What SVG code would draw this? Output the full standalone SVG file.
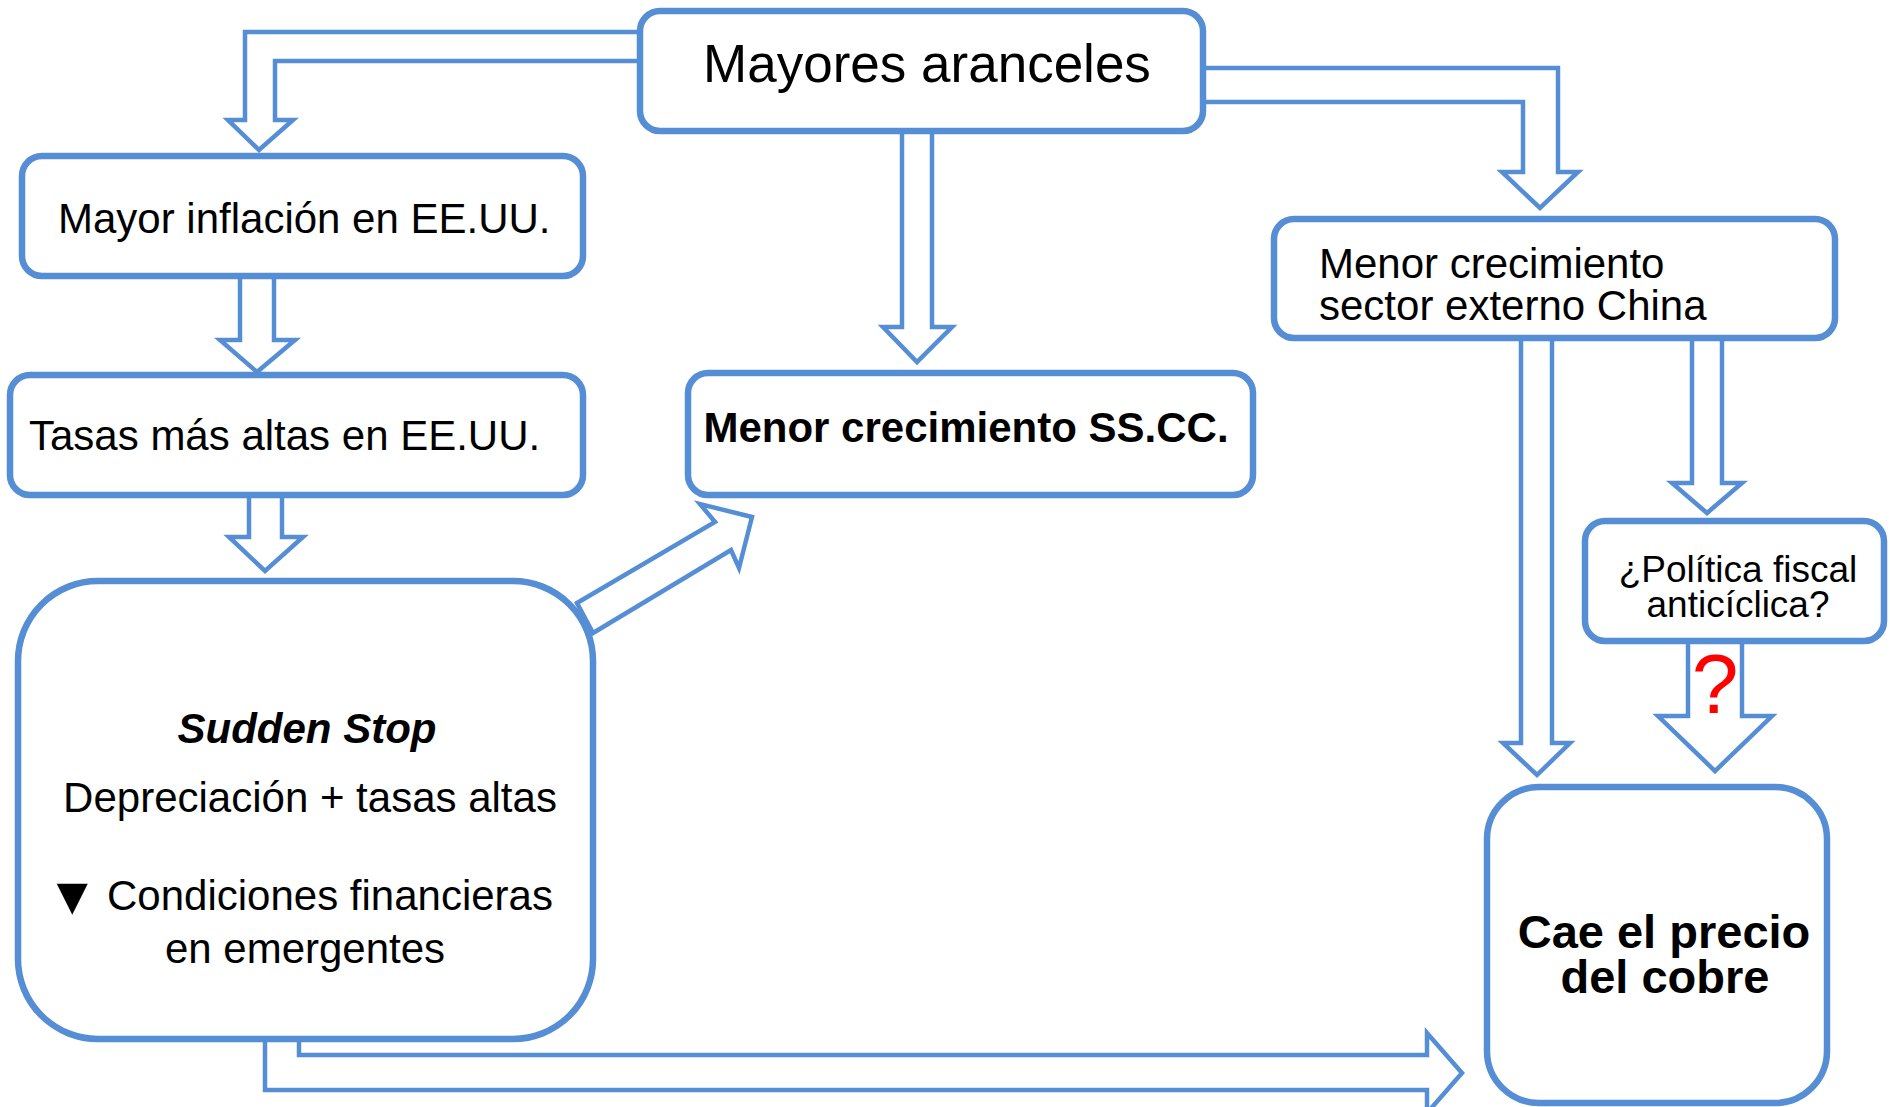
<svg xmlns="http://www.w3.org/2000/svg" width="1890" height="1107" viewBox="0 0 1890 1107">
<style>
.box{fill:#fff;stroke:#558ED5;stroke-width:6.5}
.con{fill:#fff;stroke:#558ED5;stroke-width:4.5;stroke-linejoin:miter}
.t{font-family:"Liberation Sans",Arial,sans-serif;fill:#000}
.c{text-anchor:middle}
.b{font-weight:bold}
</style>
<rect width="1890" height="1107" fill="#fff"/>
<g id="connectors">
<polygon class="con" points="640,32 245,32 245,120 228,120 259,150 293,120 275,120 275,61 640,61"/>
<polygon class="con" points="1203,68 1558,68 1558,172 1578,172 1540,208 1502,172 1523,172 1523,102 1203,102"/>
<polygon class="con" points="902,131 902,327 883,327 917,362 952,327 932,327 932,131"/>
<polygon class="con" points="240,276 240,340 220,340 257,372 295,340 274,340 274,276"/>
<polygon class="con" points="249,495 249,537 229,537 265,571 303,537 282,537 282,495"/>
<polygon class="con" points="577,603 715,522 700,504 752,517 739,568 731,550 593,633"/>
<polygon class="con" points="1521,338 1521,743 1503,743 1537,775 1570,743 1552,743 1552,338"/>
<polygon class="con" points="1692,338 1692,483 1672,483 1707,513 1742,483 1722,483 1722,338"/>
<polygon class="con" points="1688,641 1688,716 1658,716 1715,771 1772,716 1742,716 1742,641"/>
<polygon class="con" points="265,1030 265,1090 1427,1090 1427,1113 1462,1073 1427,1033 1427,1055 299,1055 299,1030"/>
</g>
<g id="n-aranceles">
<rect class="box" x="640" y="11" width="563" height="120" rx="20"/>
<text class="t c" x="927" y="82" font-size="53">Mayores aranceles</text>
</g>
<g id="n-inflacion">
<rect class="box" x="22" y="156" width="561" height="120" rx="20"/>
<text class="t" x="58" y="233" font-size="42">Mayor inflación en EE.UU.</text>
</g>
<g id="n-tasas">
<rect class="box" x="10" y="375" width="573" height="120" rx="20"/>
<text class="t" x="29" y="450" font-size="42">Tasas más altas en EE.UU.</text>
</g>
<g id="n-sscc">
<rect class="box" x="688" y="373" width="565" height="122" rx="20"/>
<text class="t c b" x="966" y="442" font-size="42">Menor crecimiento SS.CC.</text>
</g>
<g id="n-china">
<rect class="box" x="1274" y="219" width="561" height="119" rx="20"/>
<text class="t" x="1319" y="278" font-size="42">Menor crecimiento</text>
<text class="t" x="1319" y="320" font-size="42">sector externo China</text>
</g>
<g id="n-fiscal">
<rect class="box" x="1585" y="521" width="299" height="120" rx="20"/>
<text class="t c" x="1738" y="582" font-size="37">¿Política fiscal</text>
<text class="t c" x="1738" y="617" font-size="37">anticíclica?</text>
</g>
<g id="n-sudden">
<rect class="box" x="18" y="581" width="575" height="458" rx="80"/>
<text class="t c b" x="307" y="743" font-size="42" font-style="italic">Sudden Stop</text>
<text class="t c" x="310" y="812" font-size="42">Depreciación + tasas altas</text>
<text class="t" x="46" y="914" font-size="53">▼</text>
<text class="t" x="107" y="910" font-size="42">Condiciones financieras</text>
<text class="t c" x="305" y="963" font-size="42">en emergentes</text>
</g>
<g id="n-cobre">
<rect class="box" x="1487" y="787" width="340" height="316" rx="52"/>
<text class="t c b" x="1664" y="948" font-size="47">Cae el precio</text>
<text class="t c b" x="1665" y="993" font-size="47">del cobre</text>
</g>
<g id="q">
<text class="t c" x="1715" y="713" font-size="84" style="fill:#FF0000">?</text>
</g>
</svg>
